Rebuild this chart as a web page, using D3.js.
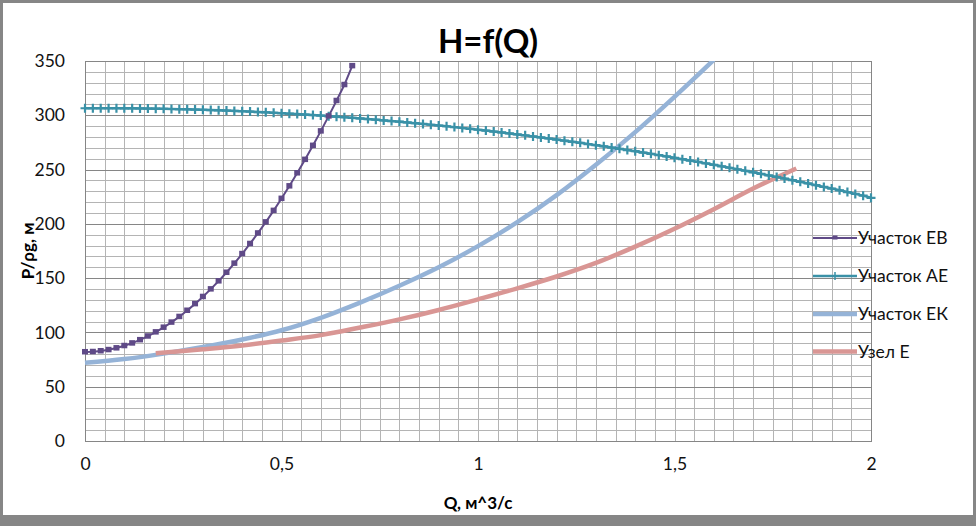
<!DOCTYPE html>
<html><head><meta charset="utf-8">
<script src="https://cdn.jsdelivr.net/npm/d3@7"></script>
<style>
html,body{margin:0;padding:0;background:#fff;}
svg{display:block;font-family:Lato,"Open Sans",sans-serif;}
</style></head>
<body>
<svg id="c" width="976" height="526"></svg>
<script>
// ---------- data ----------
const seriesNames = ["Участок ЕВ", "Участок АЕ", "Участок ЕК", "Узел Е"];

const qEB = [0,0.02,0.04,0.06,0.08,0.1,0.12,0.14,0.16,0.18,0.2,0.22,0.24,0.26,0.28,0.3,0.32,0.34,0.36,0.38,0.4,0.42,0.44,0.46,0.48,0.5,0.52,0.54,0.56,0.58,0.6,0.62,0.64,0.66,0.68];
const hEB = [82,82.2,82.9,84.0,85.6,87.7,90.1,93.1,96.5,100.3,104.6,109.3,114.5,120.2,126.3,132.9,139.9,147.3,155.2,163.6,172.4,181.7,191.4,201.6,212.2,223.3,234.8,246.8,259.2,272.1,285.4,299.2,313.4,328.1,345.5];

const qAE = [0,0.02,0.04,0.06,0.08,0.1,0.12,0.14,0.16,0.18,
  0.2,0.22,0.24,0.26,0.28,0.3,0.32,0.34,0.36,0.38,
  0.4,0.42,0.44,0.46,0.48,0.5,0.52,0.54,0.56,0.58,
  0.6,0.62,0.64,0.66,0.68,0.7,0.72,0.74,0.76,0.78,
  0.8,0.82,0.84,0.86,0.88,0.9,0.92,0.94,0.96,0.98,
  1,1.02,1.04,1.06,1.08,1.1,1.12,1.14,1.16,1.18,
  1.2,1.22,1.24,1.26,1.28,1.3,1.32,1.34,1.36,1.38,
  1.4,1.42,1.44,1.46,1.48,1.5,1.52,1.54,1.56,1.58,
  1.6,1.62,1.64,1.66,1.68,1.7,1.72,1.74,1.76,1.78,
  1.8,1.82,1.84,1.86,1.88,1.9,1.92,1.94,1.96,1.98,2];
const hAE = [306.5,306.5,306.5,306.5,306.5,306.4,306.4,306.3,306.2,306.1,
  306.0,305.8,305.6,305.5,305.3,305.0,304.8,304.6,304.3,304.0,
  303.7,303.4,303.0,302.7,302.3,301.9,301.5,301.1,300.7,300.2,
  299.7,299.2,298.7,298.2,297.7,297.1,296.5,296.0,295.3,294.7,
  294.1,293.4,292.7,292.0,291.3,290.6,289.9,289.1,288.3,287.5,
  286.7,285.9,285.0,284.2,283.3,282.4,281.5,280.5,279.6,278.6,
  277.6,276.6,275.6,274.6,273.5,272.5,271.4,270.3,269.1,268.0,
  266.9,265.7,264.5,263.3,262.1,260.8,259.6,258.3,257.0,255.7,
  254.4,253.0,251.7,250.3,248.9,247.5,246.1,244.6,243.2,241.7,
  240.2,238.7,237.2,235.6,234.0,232.5,230.9,229.3,227.6,226.0,224.0];

const qEK = [0,0.1,0.2,0.3,0.4,0.5,0.6,0.7,0.8,0.9,1,1.1,1.2,1.3,1.4,1.5,1.6];
const hEK = [72,75.5,80.5,86.5,93.5,102,113.5,127.5,143,160,179.5,201.5,226.5,254.5,284.5,317,351];

const qE = [0.18,0.3,0.4,0.5,0.6,0.7,0.8,0.9,1,1.1,1.2,1.3,1.4,1.5,1.6,1.7,1.81];
const hE = [80.8,84.5,88,92.5,97.5,104.5,112,120.7,130.5,140.6,151.5,164,179,195.5,213.5,232.5,251];

const xTickValues = [0,0.5,1,1.5,2];
const xTickLabels = ["0","0,5","1","1,5","2"];
const yTickValues = [0,50,100,150,200,250,300,350];
const yTickLabels = ["0","50","100","150","200","250","300","350"];

const titleText = "H=f(Q)";
const xTitle = "Q, м^3/с";
const yTitle = "P/ρg, м";

// ---------- drawing ----------
const W = 976, H = 526;
const svg = d3.select("#c");
const colors = {EB:"#5F4A87", AE:"#3A91A7", EK:"#95B3D7", E:"#D99694"};

// chart frame
svg.append("rect").attr("x",0).attr("y",0).attr("width",W).attr("height",H).attr("fill","#868686");
svg.append("rect").attr("x",3).attr("y",3).attr("width",W-6).attr("height",512).attr("fill","#fff");

const x = d3.scaleLinear().domain([0,2]).range([85,871]);
const y = d3.scaleLinear().domain([0,350]).range([441,61]);

// grid
const g = svg.append("g");
const vGrid = d3.range(0, 41).map(i => i*0.05);
g.selectAll("line.v").data(vGrid).join("line")
  .attr("x1", d=>Math.round(x(d))+0.5).attr("x2", d=>Math.round(x(d))+0.5)
  .attr("y1", y(0)).attr("y2", y(350))
  .attr("stroke","#B4B4B4").attr("stroke-width",1);
const hMinor = d3.range(0, 36).map(i => i*10).filter(v => v%50!==0);
g.selectAll("line.hm").data(hMinor).join("line")
  .attr("x1", x(0)).attr("x2", x(2))
  .attr("y1", d=>Math.round(y(d))+0.5).attr("y2", d=>Math.round(y(d))+0.5)
  .attr("stroke","#B4B4B4").attr("stroke-width",1);
g.selectAll("line.hM").data(yTickValues).join("line")
  .attr("x1", x(0)).attr("x2", x(2))
  .attr("y1", d=>Math.round(y(d))+0.5).attr("y2", d=>Math.round(y(d))+0.5)
  .attr("stroke","#868686").attr("stroke-width",1);
// plot border
svg.append("rect").attr("x",Math.round(x(0))+0.5).attr("y",Math.round(y(350))+0.5)
  .attr("width",Math.round(x(2))-Math.round(x(0))).attr("height",Math.round(y(0))-Math.round(y(350)))
  .attr("fill","none").attr("stroke","#868686").attr("stroke-width",1);

// axes labels via d3 axes
const yAxis = d3.axisLeft(y).tickValues(yTickValues).tickFormat((d,i)=>yTickLabels[i]).tickSize(0).tickPadding(20);
const ya = svg.append("g").attr("transform",`translate(${x(0)},0)`).call(yAxis);
ya.select(".domain").remove();
ya.selectAll("text").attr("font-size",17.5).attr("fill","#111").attr("font-family","Lato, sans-serif");

const xAxis = d3.axisBottom(x).tickValues(xTickValues).tickFormat((d,i)=>xTickLabels[i]).tickSize(0).tickPadding(17);
const xa = svg.append("g").attr("transform",`translate(0,${y(0)})`).call(xAxis);
xa.select(".domain").remove();
xa.selectAll("text").attr("font-size",17.5).attr("fill","#111").attr("font-family","Lato, sans-serif");

// clip
svg.append("clipPath").attr("id","plotclip").append("rect")
  .attr("x", x(0)-6).attr("y", y(350)).attr("width", x(2)-x(0)+12).attr("height", y(0)-y(350)+6);

const plot = svg.append("g").attr("clip-path","url(#plotclip)");

const mk = (qs, hs) => qs.map((q,i)=>[q, hs[i]]);
const dEB = mk(qEB,hEB), dAE = mk(qAE,hAE), dEK = mk(qEK,hEK), dE = mk(qE,hE);

const lineSmooth = d3.line().x(d=>x(d[0])).y(d=>y(d[1])).curve(d3.curveCatmullRom.alpha(0.5));
const lineLin = d3.line().x(d=>x(d[0])).y(d=>y(d[1]));

plot.append("path").attr("d", lineSmooth(dEK)).attr("fill","none").attr("stroke",colors.EK).attr("stroke-width",4.5).attr("stroke-linejoin","round");
plot.append("path").attr("d", lineSmooth(dE)).attr("fill","none").attr("stroke",colors.E).attr("stroke-width",4.5).attr("stroke-linejoin","round");

plot.append("path").attr("d", lineLin(dAE)).attr("fill","none").attr("stroke",colors.AE).attr("stroke-width",2.5);
const plusPath = s => `M${-s},0H${s}M0,${-s}V${s}`;
svg.append("g").selectAll("path").data(dAE).join("path")
  .attr("transform", d=>`translate(${x(d[0])},${y(d[1])})`)
  .attr("d", plusPath(4.5)).attr("stroke",colors.AE).attr("stroke-width",2.2).attr("fill","none");

plot.append("path").attr("d", lineLin(dEB)).attr("fill","none").attr("stroke",colors.EB).attr("stroke-width",2);
svg.append("g").selectAll("rect").data(dEB).join("rect")
  .attr("x", d=>x(d[0])-3).attr("y", d=>y(d[1])-3).attr("width",6).attr("height",5.5)
  .attr("fill",colors.EB);

// title
svg.append("text").attr("x",488).attr("y",53).attr("text-anchor","middle")
  .attr("font-size",33).attr("font-weight","bold").attr("fill","#000").text(titleText);
svg.append("text").attr("x",478).attr("y",503).attr("dy","0.35em").attr("text-anchor","middle")
  .attr("font-size",17).attr("font-weight","bold").attr("fill","#000").text(xTitle);
svg.append("text").attr("transform","translate(28,251) rotate(-90)").attr("dy","0.35em").attr("text-anchor","middle")
  .attr("font-size",17).attr("font-weight","bold").attr("fill","#000").text(yTitle);

// legend
const legY = [238, 276, 314, 351.5];
const leg = svg.append("g");
seriesNames.forEach((name,i)=>{
  const yy = legY[i];
  const col = [colors.EB, colors.AE, colors.EK, colors.E][i];
  const sw = [2,2.5,4.5,4.5][i];
  leg.append("line").attr("x1",813).attr("x2",857).attr("y1",yy).attr("y2",yy).attr("stroke",col).attr("stroke-width",sw);
  if(i===0) leg.append("rect").attr("x",835-2.5).attr("y",yy-2.5).attr("width",5).attr("height",4).attr("fill",col);
  if(i===1) leg.append("path").attr("transform",`translate(835,${yy})`).attr("d",plusPath(4)).attr("stroke",col).attr("stroke-width",1.5);
  leg.append("text").attr("x",858).attr("y",yy).attr("dy","0.35em").attr("font-size",17.5).attr("fill","#111").text(name);
});
</script>
</body></html>
